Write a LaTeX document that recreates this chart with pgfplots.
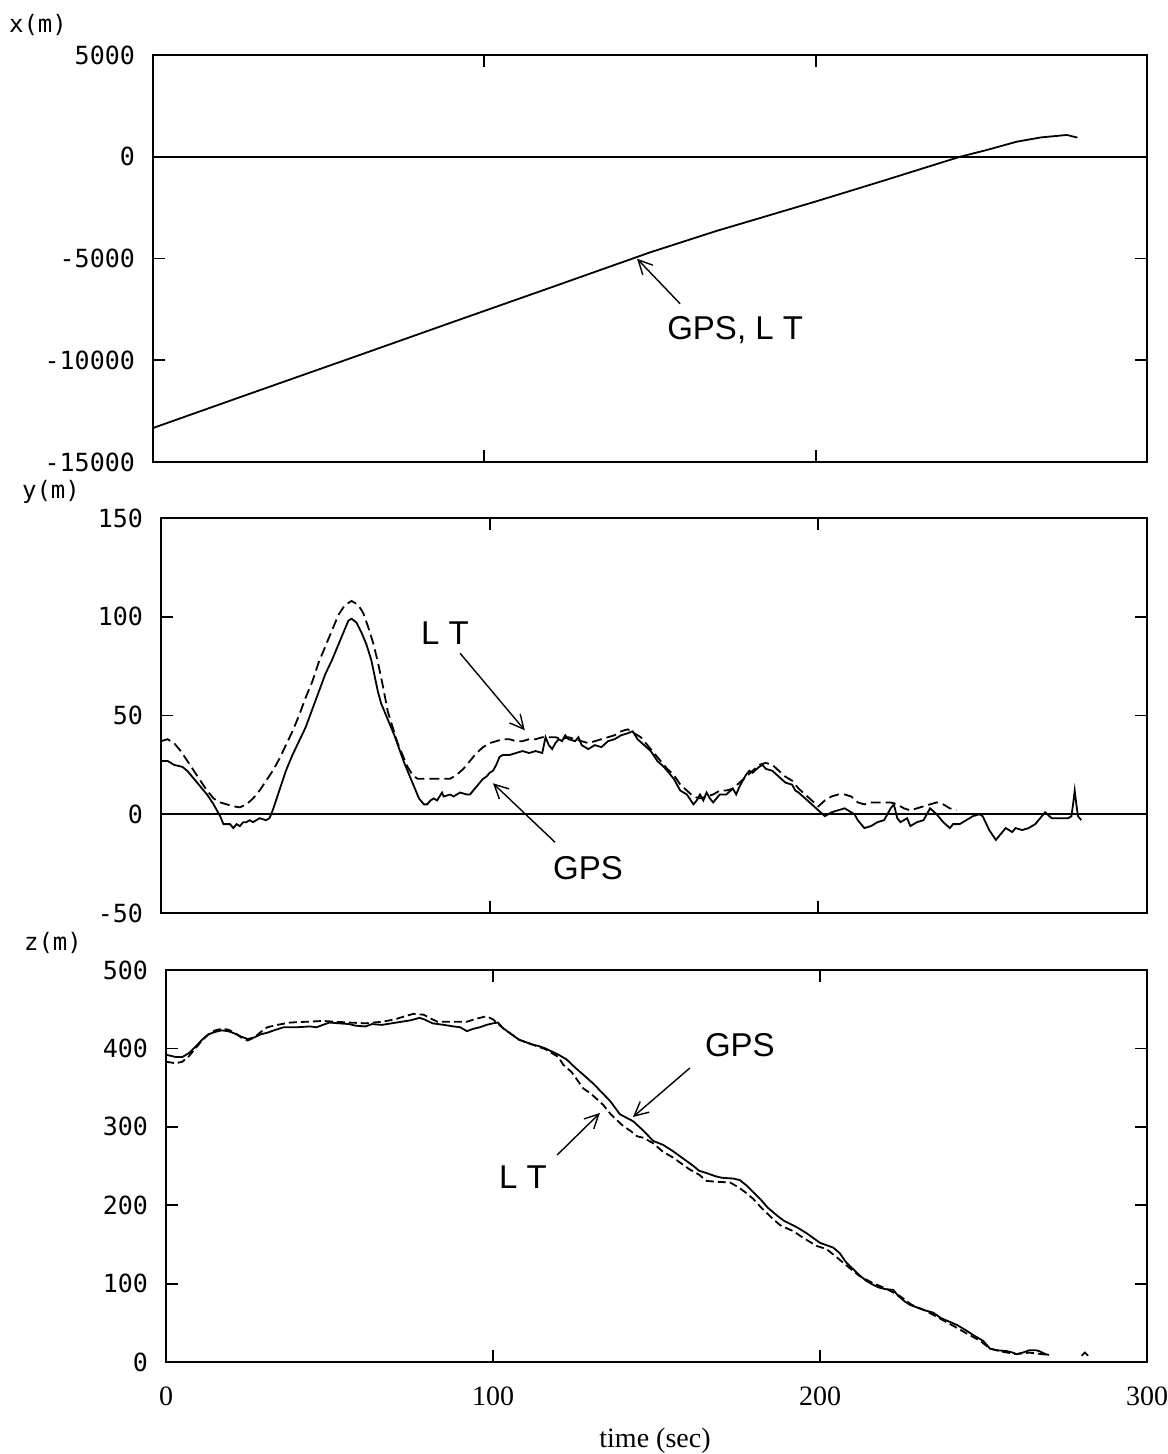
\documentclass[border=0pt]{standalone}
\usepackage{pgfplots}
\pgfplotsset{compat=1.18}
\usepackage{fontspec}
\setmainfont{Liberation Serif}
\newfontfamily\monofont{DejaVu Sans Mono}
\newfontfamily\annfont{Liberation Sans}
\usetikzlibrary{arrows.meta}

\newcommand{\tickfont}{\monofont\fontsize{12.5}{13}\selectfont}
\newcommand{\labfont}{\annfont\fontsize{16.5}{17}\selectfont}
\newcommand{\timefont}{\fontsize{14}{15}\selectfont}

\tikzset{arr/.style={-{Straight Barb[length=7pt,width=7pt]}, line width=0.7pt}}

\pgfplotsset{
  panel/.style={
    scale only axis,
    anchor=north west,
    xmin=0, xmax=300,
    axis line style={line width=1pt},
    every tick/.style={black, line width=0.9pt},
    major tick length=6pt,
    tick align=inside,
    tick pos=both,
    xtick={100,200},
    xticklabels={},
    scaled y ticks=false,
    yticklabel style={font=\tickfont, xshift=-5.5pt},
  },
  gps/.style={black, line width=0.9pt},
  lt/.style={black, line width=0.9pt, dash pattern=on 5pt off 2.5pt},
}

% x position (m) -- GPS and laser tracker coincide
\pgfplotstableread{
t x
0 -13330
30 -11600
60 -9880
90 -8150
120 -6430
150 -4700
170 -3650
200 -2200
220 -1200
243.6 0
251.6 330
260.7 740
268 950
275.8 1070
279 940
}\xdata

% y position (m), GPS
\pgfplotstableread{
t y
0 27
2 27
4 25
6.5 24
8 22
10 18
12 14
14 10
16 5
18 -1
19 -5
21 -5
22 -7
23 -5
24 -6
25 -4
26 -4
27 -3
28 -4
30 -2
32 -3
33 -2
34 2
36 12
38 22
40 30
42 37
44 44
46 53
48 62
50 71
52 78
54 86
56 94
57 98
58 99
59.5 97
61 92
62.5 86
64 78
65 70
66 62
67 56
68 52
69.5 46
71 40
72.5 33
74 26
75.5 20
77 14
78.5 8
80 5
81 5
82 7
83 8
84 7
85.5 11
86 9
88 10
89 9
91 11
93 10
94 10
95 12
96 14
98 18
99 19
100 21
101 22
102 25
103 29
104 30
106 30
108 31
110 32
112 31
114 32
116 31
117 39
118 35
119 33
120 36
121 38
122 37
123 40
124 38
126 37
127 39
128 35
130 33
132 35
134 34
136 37
138 38
140 40
142 41
143.5 42
145 38
147 35
149 32
151 27
153 24
155 20
156 18
157 15
158 12
160 10
162 5
163 7
164 10
165 7
166 11
167 8
168 6
169 8
170 10
172 10
174 13
175 10
176 14
178 20
179 22
180 21
182 24
183 25
184 23
186 22
188 19
190 16
192 15
193 12
194 11
196 8
198 5
200 2
202 -1
204 1
206 2
208 3
209 2
211 0
212 -3
214 -7
216 -6
218 -4
220 -3
222 3
223 5
224 -2
225 -4
227 -2
228 -6
230 -4
232 -3
234 3
236 0
238 -4
240 -7
241 -5
243 -5
245 -3
247 -1
249 0
250 -1
252 -8
254 -13
256 -9
257 -7
259 -9
260 -7
262 -8
264 -7
266 -5
268 -1
269 1
271 -2
276 -2
277 -1
277.5 5
278 12
278.5 5
279 -1
280 -3
}\ygps

% y position (m), laser tracker
\pgfplotstableread{
t y
0 37
2 38
4 36
6 32
8 27
10 22
12 17
14 12
16 8
18 6
20 5
22 4
24 3.5
26 5
28 8
30 12
32 17
34 22
36 28
38 35
40 42
42 50
44 59
46 67
48 77
50 85
52 93
54 101
56 106
58 108
60 106
61.5 102
63 95
64.5 87
66 77
67.5 65
69 52
70.5 44
72 36
73.5 30
75 24
76.5 20
78 18
80 18
84 18
88 18
90 20
92 23
94 27
96 31
98 34
100 36
102 37
104 38
106 38
108 37
110 37
112 38
114 38
116 39
118 39
120 39
122 38
124 39
126 38
128 37
130 36
132 37
134 38
136 39
138 40
140 42
142 43
144 41
146 39
148 35
150 31
152 27
154 23
156 20
158 15
160 12
162 9
164 8
166 9
168 10
170 12
172 12
174 13
176 16
178 19
180 22
182 25
184 26
186 25
188 22
190 19
192 17
194 13
196 10
198 7
200 4
202 7
204 9
206 10
208 10
210 9
212 6
214 5
216 6
218 6
220 6
222 6
224 5
226 3
228 2
230 3
232 4
234 5
236 6
238 5
240 3
242 2
}\ylt

% z position (m), GPS
\pgfplotstableread{
t z
0 392
3 389
5 389
7 394
9 402
11 411
13 418
15 421
17 423
19 422
21 419
23 415
25 412
27 414
29 418
31 420
33 423
36 427
40 427
44 428
46 427
48 430
50 433
53 432
56 431
58 429
61 428
63 431
66 430
69 432
72 434
75 436
77.5 439
79 437
81.5 432
85 430
88 428
90 427
92 422
94 425
96 427
98 430
100 432
101.5 433
103 426
105 420
108 411
110 408
112 405
114 403
116 400
118 396
120 392
122.5 386
125 376
128 365
130.7 355
133 345
135.8 333
138.8 316
142.9 307
146 295
149 282
152 277
155 269
158 260
161.3 250
163 244
165.3 241
168 237
170 235
173.5 234
175.5 232
177.6 225
179.5 217
181.7 208
184 197
186.8 187
189 180
192.9 172
196 164
200 152
202 149
204 146
206 139
208 127
210 119
212 111
214 104
216 99
218 95
220 93
222.4 92
224 84
226 77
227.5 73
230 69
232 66
234.6 63
237 56
239.8 51
242 47
244.8 40
247 34
249.9 27
252 17
254 15
257 14
259 12
260 10
262 12
264 15
266 15
267 14
269 10
270 9
}\zgps

% z position (m), laser tracker
\pgfplotstableread{
t z
0 383
3 381
5 383
7 390
9 400
11 410
13 418
15 423
17 425
19 424
21 420
23 414
25 410
27 414
29 421
31 427
34 430
38 433
43 434
48 435
52 434
56 433
61 432
66 434
70 437
73 441
75.6 444
78.8 443
81 438
83 434
87 434
92 434
95 438
98 441
100 437
103 426
105 420
108 411
110 408
112 405
114 402
116 399
118 394
120 389
121.5 379
124 370
127.6 349
130 342
133.7 328
136 316
139.8 301
142 295
144 288
146 286
149 279
152 268
155 261
158 252
160 246
163 239
165.3 231
168 230
172.5 229
175 223
177 217
179.6 208
182 197
185.7 182
188 174
191.8 167
195 158
199 148
202 144
205 134
209 120
212 110
216 101
220 94
224.5 84
228 73
232 66
236 57
240.8 46
245 36
249 27
252 17
256 13
260 10
264 12
268 10
270 9
}\zlt

\begin{document}
\begin{tikzpicture}
\useasboundingbox (0,0) rectangle (583.5pt,-727pt);

% ---- x(m) ----
\begin{axis}[panel, at={(76.5pt,-27.5pt)}, width=497pt, height=203.5pt,
  ymin=-15000, ymax=5000,
  ytick={-15000,-10000,-5000,0,5000},
  yticklabels={-15000,-10000,-5000,0,5000}]
  \draw[line width=0.9pt] (axis cs:0,0) -- (axis cs:300,0);
  \addplot[gps] table[x=t, y=x] {\xdata};
  \node[font=\labfont] at (axis cs:175.7,-8500) {GPS, L T};
  \draw[arr] (axis cs:159.1,-7225) -- (axis cs:146.1,-5013);
\end{axis}

% ---- y(m) ----
\begin{axis}[panel, at={(80.5pt,-259pt)}, width=493pt, height=197.5pt,
  ymin=-50, ymax=150,
  ytick={-50,0,50,100,150},
  yticklabels={-50,0,50,100,150}]
  \draw[line width=0.9pt] (axis cs:0,0) -- (axis cs:300,0);
  \addplot[lt] table[x=t, y=y] {\ylt};
  \addplot[gps] table[x=t, y=y] {\ygps};
  \node[font=\labfont] at (axis cs:86.4,91.6) {L T};
  \draw[arr] (axis cs:91,81.5) -- (axis cs:110.7,42.5);
  \node[font=\labfont] at (axis cs:129.9,-27.3) {GPS};
  \draw[arr] (axis cs:119.9,-14.2) -- (axis cs:101,15.7);
\end{axis}

% ---- z(m) ----
\begin{axis}[panel, at={(83pt,-485pt)}, width=490.5pt, height=196pt,
  ymin=0, ymax=500,
  ytick={0,100,200,300,400,500},
  yticklabels={0,100,200,300,400,500},
  xtick={0,100,200,300},
  xticklabels={0,100,200,300},
  xticklabel style={font=\timefont, yshift=-9pt}]
  \addplot[lt, dash pattern=on 4pt off 2pt] table[x=t, y=z] {\zlt};
  \addplot[gps] table[x=t, y=z] {\zgps};
  \addplot[gps] coordinates {(280,8) (281,12) (282,8)};
  \node[font=\labfont] at (axis cs:175.5,404) {GPS};
  \draw[arr] (axis cs:160.2,375) -- (axis cs:142.8,312.5);
  \node[font=\labfont] at (axis cs:109.2,236) {L T};
  \draw[arr] (axis cs:119.6,264) -- (axis cs:132.7,317.6);
\end{axis}

% axis captions
\node[font=\monofont\fontsize{12}{13}\selectfont] at (19pt,-12.5pt) {x(m)};
\node[font=\monofont\fontsize{12}{13}\selectfont] at (25.5pt,-246pt) {y(m)};
\node[font=\monofont\fontsize{12}{13}\selectfont] at (26.5pt,-471.5pt) {z(m)};
\node[font=\timefont] at (327.5pt,-720.5pt) {time (sec)};
\end{tikzpicture}
\end{document}
